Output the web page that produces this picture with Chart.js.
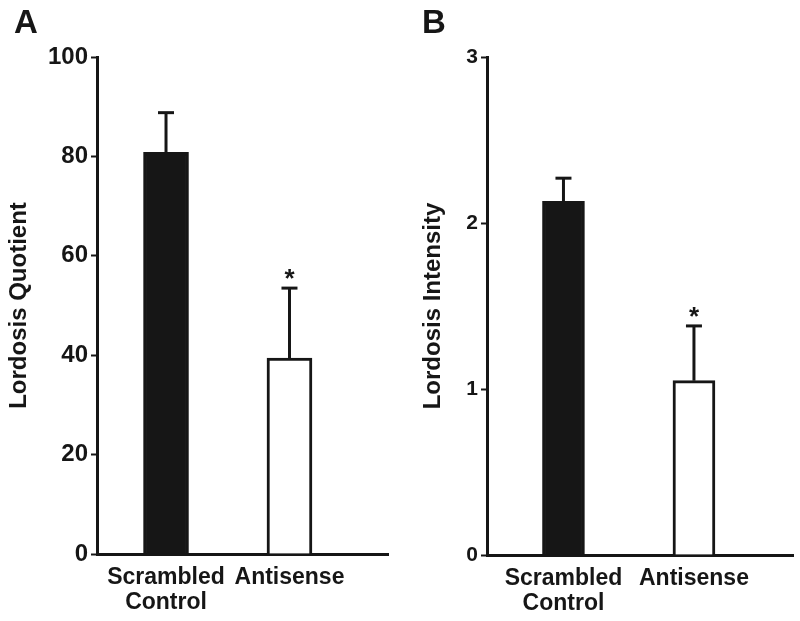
<!DOCTYPE html>
<html>
<head>
<meta charset="utf-8">
<script src="https://cdn.jsdelivr.net/npm/chart.js@4.4.1/dist/chart.umd.min.js"></script>
<style>
    html, body { margin: 0; padding: 0; background: #fff; }
    .wrap { width: 800px; height: 621px; display: flex; }
    .panel { width: 400px; height: 621px; position: relative; }
</style>
</head>
<body>
<div class="wrap">
    <div class="panel"><canvas id="chartA" width="400" height="621"></canvas></div>
    <div class="panel"><canvas id="chartB" width="400" height="621"></canvas></div>
</div>
<script>
var groups = [['Scrambled', 'Control'], ['Antisense']];
var groupPos = [1, 2];

// panel A - lordosis quotient
var quotientMeans = [80.8, 39.4];
var quotientErr = [8.0, 14.1];
var quotientTicks = [0, 20, 40, 60, 80, 100];

// panel B - lordosis intensity
var intensityMeans = [2.13, 1.05];
var intensityErr = [0.14, 0.33];
var intensityTicks = [0, 1, 2, 3];

var significant = [false, true];

var ink = '#161616';
var barFills = [ink, '#ffffff'];

// draws SEM bars (upper only), asterisks and the panel letter
var extrasPlugin = {
    id: 'extras',
    afterDatasetsDraw: function (chart, args, opts) {
        var ctx = chart.ctx;
        var xs = chart.scales.x, ys = chart.scales.y;
        var ds = chart.data.datasets[0];
        ctx.save();
        ctx.strokeStyle = ink;
        ctx.fillStyle = ink;
        ctx.lineWidth = 3;
        ds.data.forEach(function (pt, i) {
            var cx = xs.getPixelForValue(pt.x);
            var yTop = ys.getPixelForValue(pt.y);
            var yErr = ys.getPixelForValue(pt.y + opts.err[i]);
            ctx.beginPath();
            ctx.moveTo(cx, yTop);
            ctx.lineTo(cx, yErr);
            ctx.stroke();
            ctx.beginPath();
            ctx.moveTo(cx - 8, yErr);
            ctx.lineTo(cx + 8, yErr);
            ctx.stroke();
            if (significant[i]) {
                ctx.font = 'bold 26px "Liberation Sans", Arial, sans-serif';
                ctx.textAlign = 'center';
                ctx.textBaseline = 'alphabetic';
                ctx.fillText('*', cx, yErr - 1);
            }
        });
        ctx.font = 'bold 33px "Liberation Sans", Arial, sans-serif';
        ctx.textAlign = 'left';
        ctx.textBaseline = 'top';
        ctx.fillText(opts.letter, opts.letterX, 7);
        ctx.restore();
    }
};

function makeChart(id, cfg) {
    var ctx = document.getElementById(id).getContext('2d');
    var points = groupPos.map(function (p, i) { return { x: p, y: cfg.means[i] }; });
    return new Chart(ctx, {
        type: 'bar',
        data: {
            datasets: [{
                data: points,
                backgroundColor: barFills,
                borderColor: ink,
                borderWidth: 3,
                borderSkipped: 'bottom',
                barThickness: cfg.barWidth
            }]
        },
        options: {
            responsive: false,
            animation: false,
            events: [],
            layout: { padding: { top: 57, right: cfg.rightPad, left: 0, bottom: 0 } },
            plugins: {
                legend: { display: false },
                tooltip: { enabled: false },
                extras: { err: cfg.err, letter: cfg.letter, letterX: cfg.letterX }
            },
            scales: {
                x: {
                    type: 'linear',
                    offset: false,
                    min: cfg.xMin,
                    max: cfg.xMax,
                    afterBuildTicks: function (scale) {
                        scale.ticks = groupPos.map(function (v) { return { value: v }; });
                    },
                    afterFit: function (scale) { scale.height = cfg.xHeight; },
                    grid: { display: false, drawTicks: false },
                    border: { display: true, color: ink, width: 3 },
                    ticks: {
                        autoSkip: false,
                        maxRotation: 0,
                        padding: 11,
                        color: ink,
                        font: { family: '"Liberation Sans", Arial, sans-serif', size: 23, weight: 'bold', lineHeight: 1.1 },
                        callback: function (v) {
                            var i = groupPos.indexOf(v);
                            return i >= 0 ? groups[i] : '';
                        }
                    }
                },
                y: {
                    min: cfg.ticks[0],
                    max: cfg.ticks[cfg.ticks.length - 1],
                    afterBuildTicks: function (scale) {
                        scale.ticks = cfg.ticks.map(function (v) { return { value: v }; });
                    },
                    afterFit: function (scale) { scale.width = cfg.axisX; },
                    grid: { drawOnChartArea: false, drawTicks: true, tickLength: 6, tickWidth: 2, color: ink },
                    border: { display: true, color: ink, width: 3 },
                    ticks: {
                        padding: 3,
                        color: ink,
                        font: { family: '"Liberation Sans", Arial, sans-serif', size: cfg.tickSize, weight: 'bold' }
                    },
                    title: {
                        display: true,
                        text: cfg.title,
                        color: ink,
                        padding: { top: cfg.titlePad, bottom: 0 },
                        font: { family: '"Liberation Sans", Arial, sans-serif', size: 24, weight: 'bold' }
                    }
                }
            }
        },
        plugins: [extrasPlugin]
    });
}

makeChart('chartA', {
    means: quotientMeans, err: quotientErr, ticks: quotientTicks,
    title: 'Lordosis Quotient', letter: 'A', letterX: 14,
    axisX: 97, rightPad: 12, xHeight: 67, xMin: 0.441, xMax: 2.798,
    barWidth: 45, tickSize: 24, titlePad: 5
});

makeChart('chartB', {
    means: intensityMeans, err: intensityErr, ticks: intensityTicks,
    title: 'Lordosis Intensity', letter: 'B', letterX: 22,
    axisX: 87, rightPad: 7, xHeight: 66, xMin: 0.414, xMax: 2.759,
    barWidth: 42, tickSize: 21, titlePad: 19
});
</script>
</body>
</html>
